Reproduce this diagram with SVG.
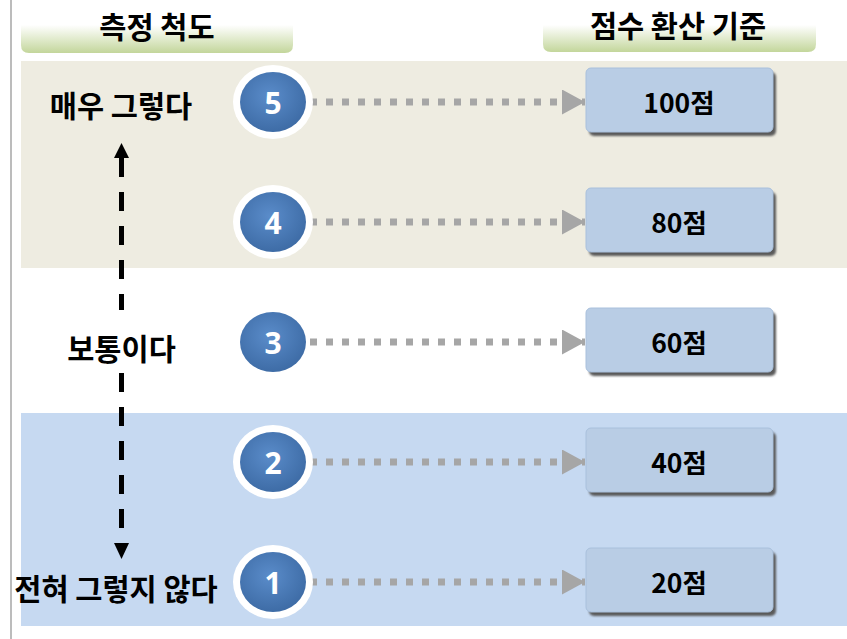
<svg xmlns="http://www.w3.org/2000/svg" width="847" height="639" viewBox="0 0 847 639">
<defs>
<linearGradient id="tab" x1="0" y1="0" x2="0" y2="1">
<stop offset="0" stop-color="#ffffff"/>
<stop offset="1" stop-color="#c3d69b"/>
</linearGradient>
<radialGradient id="ball" cx="0.45" cy="0.4" r="0.6">
<stop offset="0" stop-color="#5a8cca"/>
<stop offset="1" stop-color="#3e6ca6"/>
</radialGradient>
<filter id="blur" x="-10%" y="-10%" width="120%" height="130%"><feGaussianBlur stdDeviation="0.8"/></filter>
<marker id="gh" markerWidth="24" markerHeight="26" refX="23" refY="12.5" orient="auto" markerUnits="userSpaceOnUse">
<path d="M0,0 L23,12.5 L0,25 Z" fill="#a6a6a6"/>
</marker>
</defs>
<style>
.t{font-family:"Noto Sans CJK KR","Noto Sans",sans-serif;font-weight:bold;fill:#000;text-anchor:middle;dominant-baseline:central}
.lbl{font-size:29.5px}
.bx{font-size:26.5px}
.num{font-family:"Noto Sans","Noto Sans CJK KR",sans-serif;font-weight:bold;font-size:30px;fill:#fff;text-anchor:middle;dominant-baseline:central}
.dot{stroke:#a6a6a6;stroke-width:7;stroke-dasharray:7 9;fill:none}
.box{fill:#b9cde5;stroke:#a9c0dc;stroke-width:1}
.shadow{fill:#5a5a5a;filter:url(#blur)}
.ring{fill:#fff}
.ball{fill:url(#ball)}
.dash{stroke:#000;stroke-width:5;stroke-dasharray:19 15;fill:none}
</style>
<rect x="0" y="0" width="847" height="639" fill="#fff"/>
<line x1="11" y1="0" x2="11" y2="639" stroke="#a6a6a6" stroke-width="1.5"/>
<rect x="21" y="61" width="826" height="207" fill="#eeece1"/>
<rect x="21" y="413" width="826" height="213" fill="#c6d9f1"/>

<g id="header-left">
<path d="M21,25 H293 V45 Q293,53 285,53 H29 Q21,53 21,45 Z" fill="url(#tab)"/>
<text class="t lbl" x="157" y="25">측정 척도</text>
</g>
<g id="header-right">
<path d="M543,25 H816 V44 Q816,52 808,52 H551 Q543,52 543,44 Z" fill="url(#tab)"/>
<text class="t lbl" x="678" y="24">점수 환산 기준</text>
</g>

<g id="label-high"><text class="t lbl" x="121" y="104">매우 그렇다</text></g>
<g id="label-mid"><text class="t lbl" x="121.5" y="347">보통이다</text></g>
<g id="label-low"><text class="t lbl" x="116" y="587">전혀 그렇지 않다</text></g>

<g id="connectors">
<path class="dash" d="M121.5,158 V310"/>
<path d="M114,158 L121.5,143 L129,158 Z" fill="#000"/>
<path class="dash" d="M121.5,373 V543"/>
<path d="M114,543 L121.5,559 L129,543 Z" fill="#000"/>
<line class="dot" x1="310" y1="102" x2="585" y2="102" marker-end="url(#gh)"/>
<line class="dot" x1="310" y1="222" x2="585" y2="222" marker-end="url(#gh)"/>
<line class="dot" x1="310" y1="342" x2="585" y2="342" marker-end="url(#gh)"/>
<line class="dot" x1="310" y1="462" x2="585" y2="462" marker-end="url(#gh)"/>
<line class="dot" x1="310" y1="582" x2="585" y2="582" marker-end="url(#gh)"/>
</g>

<g id="circle-5">
<ellipse class="ring" cx="273" cy="102" rx="40" ry="37"/>
<ellipse class="ball" cx="273" cy="102" rx="33" ry="30"/>
<text class="num" x="273" y="102">5</text>
</g>
<g id="circle-4">
<ellipse class="ring" cx="273" cy="222" rx="40" ry="37"/>
<ellipse class="ball" cx="273" cy="222" rx="33" ry="30"/>
<text class="num" x="273" y="222">4</text>
</g>
<g id="circle-3">
<ellipse class="ball" cx="273" cy="342" rx="33" ry="30"/>
<text class="num" x="273" y="342">3</text>
</g>
<g id="circle-2">
<ellipse class="ring" cx="273" cy="462" rx="40" ry="37"/>
<ellipse class="ball" cx="273" cy="462" rx="33" ry="30"/>
<text class="num" x="273" y="462">2</text>
</g>
<g id="circle-1">
<ellipse class="ring" cx="273" cy="582" rx="40" ry="37"/>
<ellipse class="ball" cx="273" cy="582" rx="33" ry="30"/>
<text class="num" x="273" y="582">1</text>
</g>

<g id="box-100">
<rect class="shadow" x="589" y="72" width="187" height="64" rx="5"/>
<rect class="box" x="586" y="68" width="187" height="64" rx="5"/>
<text class="t bx" x="679" y="101">100점</text>
</g>
<g id="box-80">
<rect class="shadow" x="589" y="192" width="187" height="64" rx="5"/>
<rect class="box" x="586" y="188" width="187" height="64" rx="5"/>
<text class="t bx" x="679" y="221">80점</text>
</g>
<g id="box-60">
<rect class="shadow" x="589" y="312" width="187" height="64" rx="5"/>
<rect class="box" x="586" y="308" width="187" height="64" rx="5"/>
<text class="t bx" x="679" y="341">60점</text>
</g>
<g id="box-40">
<rect class="shadow" x="589" y="432" width="187" height="64" rx="5"/>
<rect class="box" x="586" y="428" width="187" height="64" rx="5"/>
<text class="t bx" x="679" y="461">40점</text>
</g>
<g id="box-20">
<rect class="shadow" x="589" y="552" width="187" height="64" rx="5"/>
<rect class="box" x="586" y="548" width="187" height="64" rx="5"/>
<text class="t bx" x="679" y="581">20점</text>
</g>
</svg>
